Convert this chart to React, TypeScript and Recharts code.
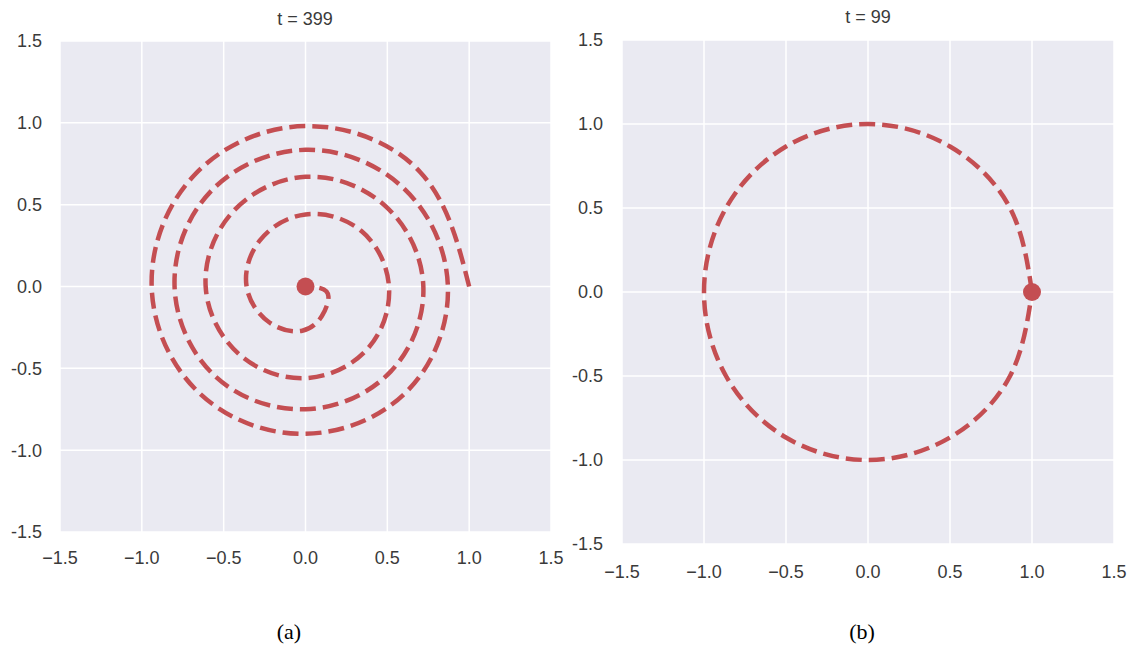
import React from 'react';
import { ComposedChart, Line, Scatter, XAxis, YAxis, CartesianGrid } from 'recharts';

// axis ticks shared by both panels
const ticks = [-1.5, -1.0, -0.5, 0.0, 0.5, 1.0, 1.5];

// (a) t = 399 : damped spiral (starts at the outer end)
const spiralX = [1.0, 0.7, 0.0, -0.68, -0.94, -0.65, 0.0, 0.63, 0.87, 0.6, 0.0, -0.58, -0.8, -0.55, 0.0, 0.52, 0.72, 0.49, 0.0, -0.45, -0.61, -0.41, 0.0, 0.38, 0.51, 0.34, 0.0, -0.28, -0.36, -0.22, -0.02, 0.1, 0.14, 0.09, 0.0];
const spiralY = [0.0, 0.7, 0.98, 0.68, 0.0, -0.65, -0.9, -0.63, 0.0, 0.6, 0.835, 0.58, 0.0, -0.55, -0.75, -0.52, 0.0, 0.49, 0.67, 0.45, 0.0, -0.41, -0.56, -0.38, 0.0, 0.34, 0.44, 0.28, 0.0, -0.22, -0.27, -0.18, -0.06, -0.01, 0.0];
const spiralDot = [{ x: 0.0, y: 0.0 }];

// (b) t = 99 : unit circle
const circleX = [1.0, 0.866, 0.5, 0.0, -0.5, -0.866, -1.0, -0.866, -0.5, 0.0, 0.5, 0.866, 1.0];
const circleY = [0.0, 0.5, 0.866, 1.0, 0.866, 0.5, 0.0, -0.5, -0.866, -1.0, -0.866, -0.5, 0.0];
const circleDot = [{ x: 1.0, y: 0.0 }];

const spiral = spiralX.map((x, i) => ({ x, y: spiralY[i] }));
const circle = circleX.map((x, i) => ({ x, y: circleY[i] }));

const RED = '#C44E52';
const SANS = 'Liberation Sans, Arial, sans-serif';
const tickStyle = { fontSize: 18, fill: '#3a3a3a', fontFamily: SANS };

const fmtX = (v: number) => (v < 0 ? '\u2212' + Math.abs(v).toFixed(1) : v.toFixed(1));
const fmtY = (v: number) => v.toFixed(1);

const Dot = (props: any) => <circle cx={props.cx} cy={props.cy} r={9} fill={RED} />;

const Panel = ({ data, dot, margin, yWidth, yGap, xGap, width }: any) => (
  <ComposedChart width={width} height={600} margin={margin}>
    <CartesianGrid fill="#EAEAF2" stroke="#ffffff" strokeWidth={1.5} />
    <XAxis
      type="number"
      dataKey="x"
      domain={[-1.5, 1.5]}
      ticks={ticks}
      tickFormatter={fmtX}
      axisLine={false}
      tickLine={false}
      tickSize={6}
      tickMargin={xGap}
      height={40}
      tick={tickStyle}
      interval={0}
    />
    <YAxis
      type="number"
      domain={[-1.5, 1.5]}
      ticks={ticks}
      tickFormatter={fmtY}
      axisLine={false}
      tickLine={false}
      tickSize={6}
      tickMargin={yGap}
      width={yWidth}
      tick={tickStyle}
      interval={0}
    />
    <Line
      data={data}
      dataKey="y"
      type="natural"
      stroke={RED}
      strokeWidth={4.5}
      strokeDasharray="16 7"
      dot={false}
      activeDot={false}
      isAnimationActive={false}
    />
    <Scatter data={dot} dataKey="y" fill={RED} shape={Dot} isAnimationActive={false} />
  </ComposedChart>
);

const App = () => {
  return (
    <div style={{ position: 'absolute', left: 0, top: 0, width: 1127, height: 649, background: '#fff', overflow: 'hidden' }}>
      <div style={{ position: 'absolute', left: 0, top: 0 }}>
        <Panel
          data={spiral}
          dot={spiralDot}
          width={575}
          margin={{ top: 41, right: 24, bottom: 28, left: 0 }}
          yWidth={60}
          yGap={12}
          xGap={13}
        />
      </div>
      <div style={{ position: 'absolute', left: 560, top: 0 }}>
        <Panel
          data={circle}
          dot={circleDot}
          width={567}
          margin={{ top: 40, right: 13, bottom: 16, left: 0 }}
          yWidth={62}
          yGap={13}
          xGap={15}
        />
      </div>
      <div style={{ position: 'absolute', left: 205, width: 200, top: 9, textAlign: 'center', fontFamily: SANS, fontSize: 18, color: '#3a3a3a' }}>
        t = 399
      </div>
      <div style={{ position: 'absolute', left: 768, width: 200, top: 7, textAlign: 'center', fontFamily: SANS, fontSize: 18, color: '#3a3a3a' }}>
        t = 99
      </div>
      <div style={{ position: 'absolute', left: 239, width: 100, top: 619, textAlign: 'center', fontFamily: 'Liberation Serif, Times New Roman, serif', fontSize: 22, color: '#000' }}>
        (a)
      </div>
      <div style={{ position: 'absolute', left: 812, width: 100, top: 619, textAlign: 'center', fontFamily: 'Liberation Serif, Times New Roman, serif', fontSize: 22, color: '#000' }}>
        (b)
      </div>
    </div>
  );
};

export default App;
